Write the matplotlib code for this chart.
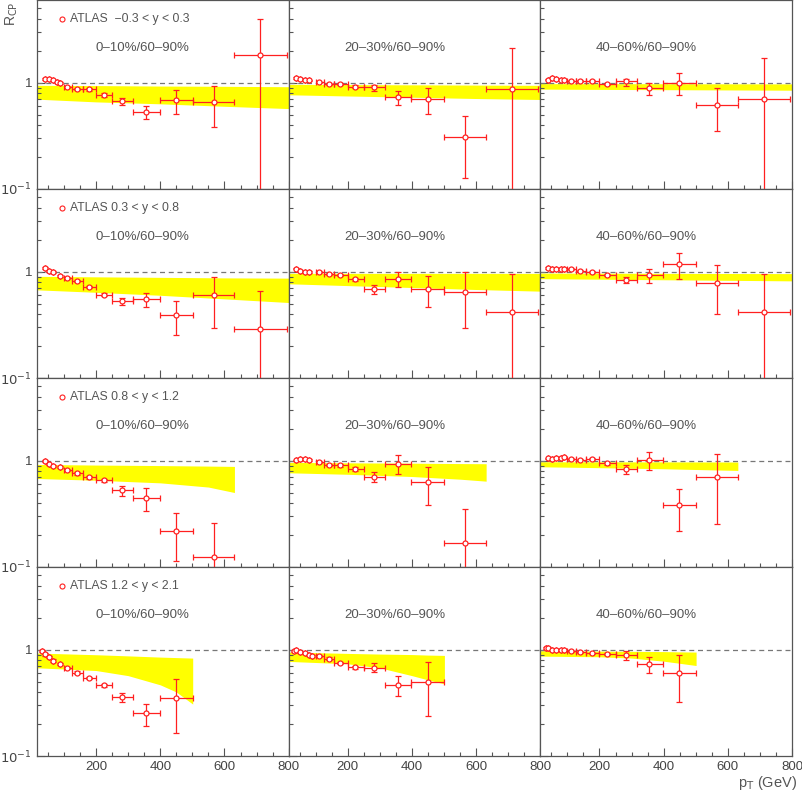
import numpy as np
import matplotlib
matplotlib.use('Agg')
import matplotlib.pyplot as plt
from matplotlib.ticker import FixedLocator, FixedFormatter, NullFormatter

plt.rcParams['font.family'] = ['Liberation Sans', 'DejaVu Sans']
nan = np.nan

# jet pT points (GeV) shared by all panels, and bin edges for the x error bars
PT = [32, 40, 52, 66, 79, 89, 110, 140, 177, 224, 282, 355, 449, 566, 712]
BIN_EDGES = [100, 126, 158, 200, 251, 316, 398, 501, 631, 794]

RAPIDITY = ['ATLAS  \u22120.3 < y < 0.3', 'ATLAS 0.3 < y < 0.8',
            'ATLAS 0.8 < y < 1.2', 'ATLAS 1.2 < y < 2.1']
CENTRALITY = ['0\u201310%/60\u201390%', '20\u201330%/60\u201390%', '40\u201360%/60\u201390%']

# ---- R_CP values, lower and upper error bounds (nan = no point) ----
# |y| < 0.3
rcp_y0_c0 = [nan, 1.09, 1.09, 1.05, 1.02, 0.99, 0.92, 0.877, 0.865, 0.77, 0.67, 0.53, 0.685, 0.66, 1.83]
lo_y0_c0 = [nan, 1.07, 1.07, 1.03, 1.0, 0.97, 0.90, 0.85, 0.84, 0.74, 0.62, 0.456, 0.51, 0.38, 0.05]
hi_y0_c0 = [nan, 1.11, 1.11, 1.07, 1.04, 1.01, 0.94, 0.90, 0.89, 0.80, 0.72, 0.60, 0.846, 0.93, 3.97]
rcp_y0_c1 = [nan, 1.107, 1.09, 1.067, 1.05, nan, 1.007, 0.978, 0.971, 0.917, 0.903, 0.732, 0.706, 0.308, 0.865]
lo_y0_c1 = [nan, 1.09, 1.07, 1.05, 1.03, nan, 0.99, 0.96, 0.95, 0.89, 0.828, 0.62, 0.513, 0.126, 0.05]
hi_y0_c1 = [nan, 1.12, 1.11, 1.085, 1.07, nan, 1.025, 0.995, 0.99, 0.945, 0.957, 0.84, 0.89, 0.487, 2.1]
rcp_y0_c2 = [nan, 1.067, 1.099, 1.083, 1.067, 1.05, 1.044, 1.044, 1.044, 0.978, 1.037, 0.884, 1.0, 0.619, 0.70]
lo_y0_c2 = [nan, 1.05, 1.08, 1.065, 1.05, 1.03, 1.025, 1.025, 1.02, 0.955, 0.937, 0.764, 0.77, 0.349, 0.05]
hi_y0_c2 = [nan, 1.085, 1.12, 1.10, 1.085, 1.07, 1.065, 1.065, 1.065, 1.0, 1.09, 0.99, 1.24, 0.897, 1.69]
# 0.3 < y < 0.8
rcp_y1_c0 = [nan, 1.09, 1.015, 0.985, nan, 0.91, 0.877, 0.816, 0.72, 0.606, 0.535, 0.555, 0.389, 0.601, 0.29]
lo_y1_c0 = [nan, 1.07, 0.995, 0.965, nan, 0.89, 0.855, 0.795, 0.70, 0.585, 0.487, 0.467, 0.255, 0.298, 0.05]
hi_y1_c0 = [nan, 1.11, 1.035, 1.005, nan, 0.93, 0.90, 0.84, 0.74, 0.63, 0.563, 0.637, 0.527, 0.897, 0.656]
rcp_y1_c1 = [nan, 1.067, 1.01, 1.0, 0.993, nan, 0.986, 0.944, 0.93, 0.846, 0.69, 0.852, 0.69, 0.642, 0.421]
lo_y1_c1 = [nan, 1.05, 0.99, 0.98, 0.975, nan, 0.965, 0.925, 0.91, 0.815, 0.623, 0.72, 0.463, 0.295, 0.05]
hi_y1_c1 = [nan, 1.085, 1.03, 1.02, 1.01, nan, 1.005, 0.965, 0.95, 0.875, 0.75, 0.993, 0.917, 0.985, 0.944]
rcp_y1_c2 = [nan, 1.083, 1.067, 1.06, 1.067, 1.067, 1.06, 1.022, 0.993, 0.93, 0.834, 0.93, 1.17, 0.78, 0.42]
lo_y1_c2 = [nan, 1.065, 1.05, 1.04, 1.05, 1.05, 1.04, 1.0, 0.975, 0.91, 0.787, 0.78, 0.846, 0.404, 0.05]
hi_y1_c2 = [nan, 1.10, 1.085, 1.08, 1.085, 1.085, 1.08, 1.04, 1.01, 0.95, 0.897, 1.067, 1.49, 1.165, 0.944]
# 0.8 < y < 1.2
rcp_y2_c0 = [nan, 1.0, 0.923, 0.89, nan, 0.877, 0.816, 0.759, 0.696, 0.656, 0.532, 0.45, 0.218, 0.123, nan]
lo_y2_c0 = [nan, 0.98, 0.905, 0.87, nan, 0.86, 0.80, 0.74, 0.675, 0.63, 0.47, 0.34, 0.113, 0.05, nan]
hi_y2_c0 = [nan, 1.02, 0.94, 0.91, nan, 0.895, 0.835, 0.78, 0.715, 0.68, 0.58, 0.551, 0.322, 0.26, nan]
rcp_y2_c1 = [nan, 1.007, 1.03, 1.03, 1.015, nan, 0.978, 0.91, 0.903, 0.834, 0.70, 0.937, 0.628, 0.168, nan]
lo_y2_c1 = [nan, 0.99, 1.01, 1.01, 0.995, nan, 0.96, 0.89, 0.88, 0.80, 0.628, 0.742, 0.386, 0.05, nan]
hi_y2_c1 = [nan, 1.025, 1.05, 1.05, 1.035, nan, 0.995, 0.93, 0.925, 0.865, 0.776, 1.13, 0.865, 0.354, nan]
rcp_y2_c2 = [nan, 1.052, 1.03, 1.06, 1.067, 1.075, 1.037, 1.022, 1.03, 0.944, 0.834, 1.007, 0.38, 0.70, nan]
lo_y2_c2 = [nan, 1.035, 1.01, 1.04, 1.05, 1.055, 1.02, 1.005, 1.01, 0.92, 0.753, 0.81, 0.22, 0.255, nan]
hi_y2_c2 = [nan, 1.07, 1.05, 1.08, 1.085, 1.095, 1.055, 1.04, 1.05, 0.97, 0.91, 1.2, 0.54, 1.15, nan]
# 1.2 < y < 2.1
rcp_y3_c0 = [0.971, 0.903, 0.852, 0.79, nan, 0.737, 0.676, 0.61, 0.54, 0.466, 0.357, 0.252, 0.349, nan, nan]
lo_y3_c0 = [0.95, 0.88, 0.83, 0.77, nan, 0.72, 0.66, 0.595, 0.525, 0.45, 0.32, 0.19, 0.166, nan, nan]
hi_y3_c0 = [0.99, 0.925, 0.875, 0.81, nan, 0.755, 0.695, 0.625, 0.555, 0.48, 0.389, 0.309, 0.53, nan, nan]
rcp_y3_c1 = [0.971, 0.986, 0.944, 0.93, 0.897, 0.877, 0.865, 0.822, 0.748, 0.686, 0.68, 0.47, 0.50, nan, nan]
lo_y3_c1 = [0.955, 0.97, 0.925, 0.91, 0.88, 0.86, 0.845, 0.80, 0.73, 0.66, 0.615, 0.37, 0.24, nan, nan]
hi_y3_c1 = [0.99, 1.0, 0.96, 0.95, 0.915, 0.895, 0.885, 0.845, 0.765, 0.71, 0.748, 0.567, 0.764, nan, nan]
rcp_y3_c2 = [1.044, 1.037, 0.986, 0.986, 0.986, 0.993, 0.978, 0.957, 0.923, 0.91, 0.884, 0.737, 0.606, nan, nan]
lo_y3_c2 = [1.025, 1.02, 0.97, 0.97, 0.97, 0.975, 0.96, 0.94, 0.905, 0.885, 0.804, 0.606, 0.322, nan, nan]
hi_y3_c2 = [1.06, 1.055, 1.005, 1.005, 1.005, 1.01, 0.995, 0.975, 0.94, 0.935, 0.964, 0.858, 0.89, nan, nan]

# ---- theory bands (yellow) ----
band_x_full = [16, 200, 400, 600, 800]
band_x_mid = [16, 200, 400, 550, 631]
band_x_short = [16, 200, 300, 400, 450, 501]
band_top_y0 = [[0.945, 0.94, 0.93, 0.925, 0.917], [0.965, 0.96, 0.955, 0.95, 0.945], [0.98, 0.98, 0.978, 0.976, 0.975]]
band_bot_y0 = [[0.70, 0.66, 0.633, 0.60, 0.571], [0.77, 0.75, 0.73, 0.71, 0.695], [0.87, 0.865, 0.86, 0.855, 0.85]]
band_top_y1 = [[0.905, 0.895, 0.885, 0.875, 0.87], [0.965, 0.965, 0.965, 0.965, 0.964], [0.97, 0.968, 0.965, 0.962, 0.96]]
band_bot_y1 = [[0.675, 0.64, 0.60, 0.555, 0.513], [0.77, 0.74, 0.71, 0.68, 0.656], [0.86, 0.85, 0.84, 0.83, 0.82]]
band_top_y2 = [[0.923, 0.91, 0.90, 0.89, 0.884], [0.964, 0.955, 0.948, 0.94, 0.937], [0.978, 0.976, 0.975, 0.973, 0.972]]
band_bot_y2 = [[0.68, 0.655, 0.619, 0.565, 0.502], [0.77, 0.745, 0.71, 0.67, 0.642], [0.877, 0.86, 0.84, 0.82, 0.81]]
band_top_y3 = [[0.93, 0.897, 0.875, 0.852, 0.843, 0.834], [0.95, 0.923, 0.91, 0.90, 0.89, 0.884], [0.978, 0.97, 0.965, 0.96, 0.955, 0.95]]
band_bot_y3 = [[0.676, 0.637, 0.57, 0.467, 0.40, 0.308], [0.776, 0.737, 0.675, 0.57, 0.52, 0.477], [0.87, 0.858, 0.834, 0.78, 0.745, 0.71]]

RCP = [[rcp_y0_c0, rcp_y0_c1, rcp_y0_c2], [rcp_y1_c0, rcp_y1_c1, rcp_y1_c2],
       [rcp_y2_c0, rcp_y2_c1, rcp_y2_c2], [rcp_y3_c0, rcp_y3_c1, rcp_y3_c2]]
LO = [[lo_y0_c0, lo_y0_c1, lo_y0_c2], [lo_y1_c0, lo_y1_c1, lo_y1_c2],
      [lo_y2_c0, lo_y2_c1, lo_y2_c2], [lo_y3_c0, lo_y3_c1, lo_y3_c2]]
HI = [[hi_y0_c0, hi_y0_c1, hi_y0_c2], [hi_y1_c0, hi_y1_c1, hi_y1_c2],
      [hi_y2_c0, hi_y2_c1, hi_y2_c2], [hi_y3_c0, hi_y3_c1, hi_y3_c2]]
BAND_X = [band_x_full, band_x_full, band_x_mid, band_x_short]
BAND_TOP = [band_top_y0, band_top_y1, band_top_y2, band_top_y3]
BAND_BOT = [band_bot_y0, band_bot_y1, band_bot_y2, band_bot_y3]


def x_widths(pts):
    # half widths of the pT bins (only the wide bins get visible bars)
    left, right = [], []
    for x in pts:
        k = np.searchsorted(BIN_EDGES, x)
        if 0 < k < len(BIN_EDGES):
            left.append(x - BIN_EDGES[k - 1])
            right.append(BIN_EDGES[k] - x)
        else:
            left.append(0)
            right.append(0)
    return np.array(left), np.array(right)


W, H = 803, 793
fig = plt.figure(figsize=(W / 100, H / 100), dpi=100)
TXT = '#555555'
x0, pw = 37, 251.7
ph = 189

for i in range(4):
    for j in range(3):
        ax = fig.add_axes([(x0 + j * pw) / W, 1 - (i + 1) * ph / H, pw / W, ph / H])
        ax.set_xlim(16, 800)
        ax.set_yscale('log')
        ax.set_ylim(0.1, 6)

        ax.fill_between(BAND_X[i], BAND_BOT[i][j], BAND_TOP[i][j], color='#ffff00', lw=0, zorder=1)
        ax.axhline(1, color='#777777', ls=(0, (4, 3)), lw=0.9, zorder=2)

        x = np.array(PT, dtype=float)
        y = np.array(RCP[i][j], dtype=float)
        lo = np.array(LO[i][j], dtype=float)
        hi = np.array(HI[i][j], dtype=float)
        ok = ~np.isnan(y)
        xl, xr = x_widths(x[ok])
        ax.errorbar(x[ok], y[ok], yerr=[y[ok] - lo[ok], hi[ok] - y[ok]], xerr=[xl, xr],
                    fmt='o', color='#ff2020', mfc='white', mec='#ff2020', ms=3.6, mew=0.9,
                    elinewidth=0.9, capsize=2.2, capthick=0.9, zorder=3)

        ax.text(0.42, 0.745, CENTRALITY[j], transform=ax.transAxes, ha='center', va='center',
                fontsize=9.5, color=TXT)
        if j == 0:
            ax.plot([0.099], [0.90], 'o', transform=ax.transAxes, mfc='none', mec='#ff2020',
                    ms=3.6, mew=0.8)
            ax.text(0.13, 0.90, RAPIDITY[i], transform=ax.transAxes, ha='left', va='center',
                    fontsize=8.8, color=TXT)

        # ROOT-like inward ticks on left and bottom only
        ax.xaxis.set_major_locator(FixedLocator([200, 400, 600, 800]))
        ax.xaxis.set_minor_locator(FixedLocator([50, 100, 150, 250, 300, 350, 450, 500, 550, 650, 700, 750]))
        ax.yaxis.set_major_locator(FixedLocator([0.1, 1]))
        ax.yaxis.set_minor_locator(FixedLocator([0.2, 0.3, 0.4, 0.5, 0.6, 0.7, 0.8, 0.9, 2, 3, 4, 5]))
        ax.yaxis.set_minor_formatter(NullFormatter())
        ax.tick_params(which='both', direction='in', top=False, right=False, colors='#555555',
                       labelcolor='#444444', labelsize=9.5, width=0.8)
        ax.tick_params(which='major', length=5.5)
        ax.tick_params(which='minor', length=3)
        if j == 0:
            ax.yaxis.set_major_formatter(FixedFormatter(['$10^{-1}$', '1']))
        else:
            ax.yaxis.set_major_formatter(NullFormatter())
        if i < 3:
            ax.xaxis.set_major_formatter(NullFormatter())
        for s in ax.spines.values():
            s.set_color('#555555')
            s.set_linewidth(0.9)

fig.text(0.004, 0.998, r'R$_{\rm CP}$', rotation=90, ha='left', va='top', fontsize=10, color=TXT)
fig.text(0.993, 0.001, r'p$_{\rm T}$ (GeV)', ha='right', va='bottom', fontsize=10.5, color=TXT)

fig.savefig('out.png', dpi=100)
